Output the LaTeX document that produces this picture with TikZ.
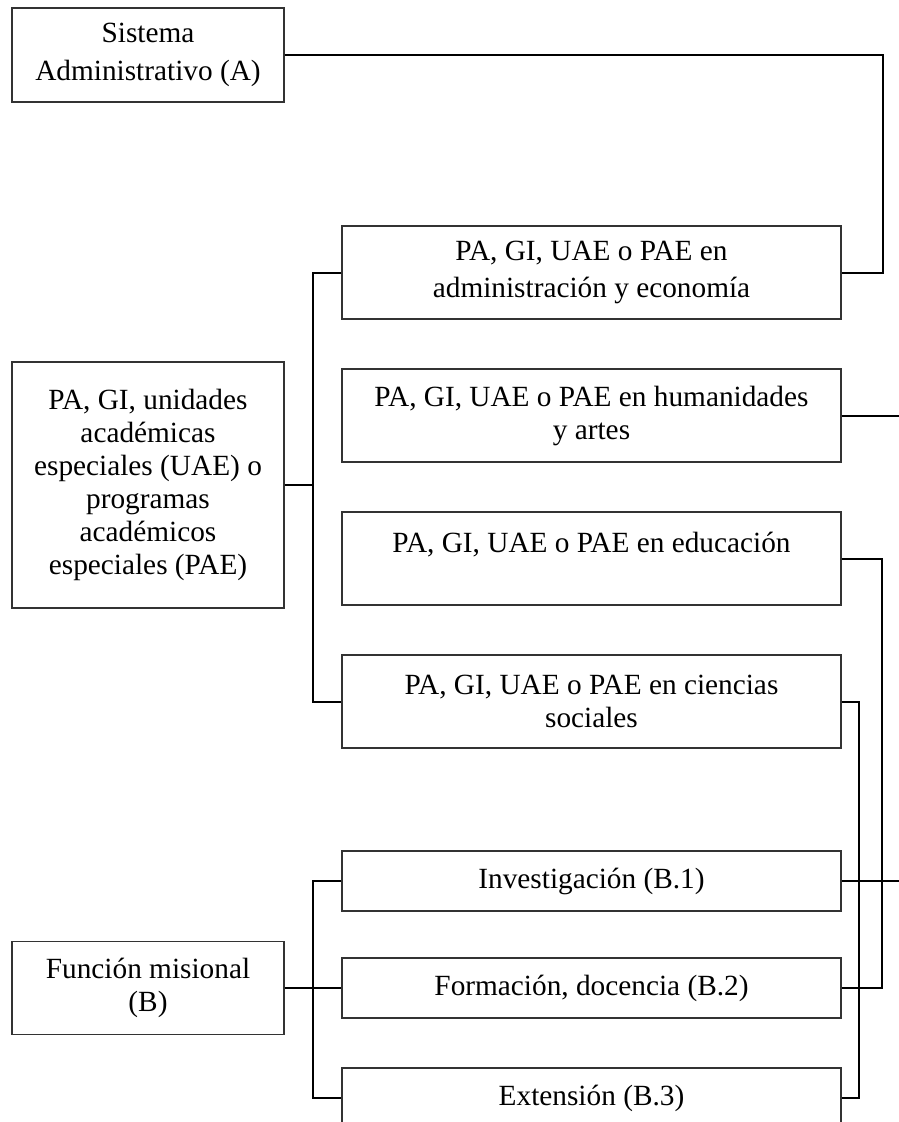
\documentclass[tikz,border=0pt]{standalone}
\usepackage{fontspec}
\setmainfont{Liberation Serif}
\begin{document}
\begin{tikzpicture}[x=1pt,y=-1pt,
  box/.style={draw=black!80, line width=1.2pt, rectangle, align=center, inner sep=0pt,
    font=\fontsize{29.3}{33}\selectfont},
  wide/.style={font=\fontsize{29.3}{37.5}\selectfont},
  lbox/.style={box, minimum width=272pt},
  rbox/.style={box, minimum width=499pt},
  link/.style={draw=black, line width=2pt}]
\clip (0,0) rectangle (899,1122);
\fill[white] (0,0) rectangle (899,1122);
% left boxes
\node[lbox, wide, minimum height=94pt] (sys) at (148,55) {Sistema\\Administrativo (A)};
\node[lbox, minimum height=246pt] (pa) at (148,485) {PA, GI, unidades\\acad\'emicas\\especiales (UAE) o\\programas\\acad\'emicos\\especiales (PAE)};
\node[lbox, minimum height=93pt] (fun) at (148,988) {Funci\'on misional\\(B)};
% right boxes
\node[rbox, wide, minimum height=93pt] (r1) at (591.5,272.5) {PA, GI, UAE o PAE en\\administraci\'on y econom\'ia};
\node[rbox, minimum height=93pt] (r2) at (591.5,415.5) {PA, GI, UAE o PAE en humanidades\\y artes};
\node[rbox, minimum height=93pt] (r3) at (591.5,558.5) {PA, GI, UAE o PAE en educaci\'on\\\mbox{}};
\node[rbox, minimum height=93pt] (r4) at (591.5,701.5) {PA, GI, UAE o PAE en ciencias\\sociales};
\node[rbox, minimum height=60pt] (inv) at (591.5,881) {Investigaci\'on (B.1)};
\node[rbox, minimum height=60pt] (for) at (591.5,988) {Formaci\'on, docencia (B.2)};
\node[rbox, minimum height=60pt] (ext) at (591.5,1098) {Extensi\'on (B.3)};
% free ends at the right edge
\coordinate (e2) at (899,415.5);
\coordinate (e5) at (899,881);
% connectors
\draw[link] (sys.east) -- (883,55) |- (r1.east);
\draw[link] (pa.east) -- (313,485);
\draw[link] (r1.west) -- (313,272.5) |- (r4.west);
\draw[link] (r2.east) -- (e2);
\draw[link] (r3.east) -- (882,558.5) |- (for.east);
\draw[link] (r4.east) -- (859,701.5) |- (ext.east);
\draw[link] (inv.east) -- (e5);
\draw[link] (fun.east) -- (for.west);
\draw[link] (inv.west) -- (313,881) |- (ext.west);
\end{tikzpicture}
\end{document}
